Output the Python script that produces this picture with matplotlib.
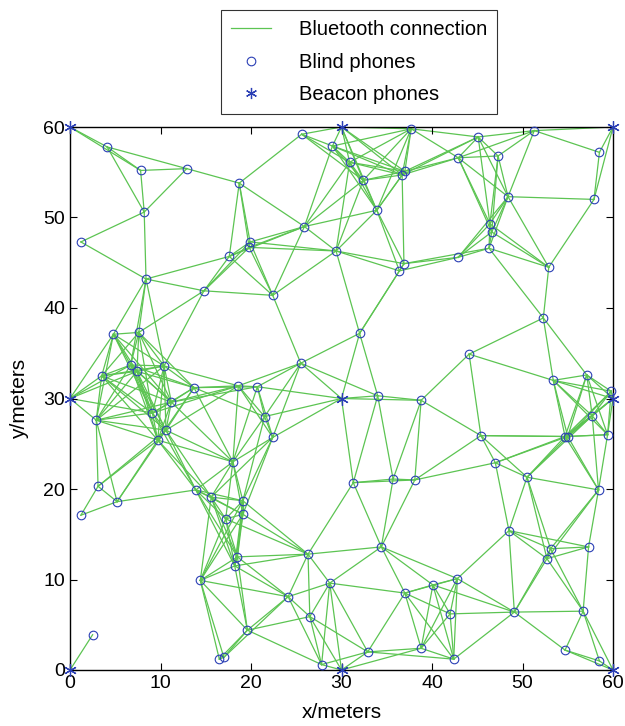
import matplotlib
matplotlib.use('Agg')
import matplotlib.pyplot as plt
from matplotlib.lines import Line2D

plt.rcParams['font.family'] = ['Liberation Sans', 'DejaVu Sans']

# Beacon phones (anchors at known positions), metres
beacon_x = [0, 30, 60, 0, 30, 60, 0, 30, 60]
beacon_y = [0, 0, 0, 30, 30, 30, 60, 60, 60]

# Blind phones, metres
blind_x = [4.1, 7.8, 12.9, 8.2, 1.2, 8.4, 18.7, 17.6, 19.9, 19.8, 14.8, 22.4,
           25.6, 29.0, 30.9, 32.4, 37.7, 37.0, 36.7, 33.9, 25.9, 29.4, 36.9, 36.4,
           45.1, 51.3, 58.5, 42.9, 47.3, 48.4, 57.9, 46.4, 46.6, 46.3, 42.9, 52.9,
           4.8, 7.6, 6.7, 7.4, 10.4, 3.5, 13.7, 18.6, 11.2, 9.1, 2.9, 10.6, 9.7, 18.0, 3.1, 13.9, 15.6,
           32.0, 25.5, 20.7, 34.0, 38.8, 21.5, 22.4, 31.3, 35.7, 38.1,
           52.3, 44.1, 53.4, 57.1, 59.8, 57.7, 59.4, 45.4, 54.7, 55.0, 47.0, 50.5, 58.4,
           5.2, 1.2, 19.1, 19.1, 17.2, 18.5, 18.2, 14.4, 19.6, 16.5, 17.0, 2.5,
           26.3, 34.4, 28.7, 24.1, 26.5, 37.0, 40.1, 27.8, 32.9, 38.8,
           48.5, 53.1, 52.7, 57.3, 42.8, 42.0, 49.1, 56.7, 42.4, 54.7, 58.5]
blind_y = [57.8, 55.2, 55.4, 50.6, 47.3, 43.2, 53.8, 45.7, 47.3, 46.7, 41.9, 41.4,
           59.2, 57.9, 56.1, 54.1, 59.8, 55.1, 54.7, 50.8, 49.0, 46.3, 44.9, 44.1,
           58.9, 59.6, 57.2, 56.6, 56.8, 52.3, 52.0, 49.3, 48.4, 46.6, 45.6, 44.5,
           37.1, 37.3, 33.7, 33.0, 33.6, 32.5, 31.2, 31.4, 29.6, 28.4, 27.6, 26.5, 25.4, 23.0, 20.3, 19.9, 19.1,
           37.2, 33.9, 31.3, 30.3, 29.8, 28.0, 25.7, 20.7, 21.1, 21.0,
           38.9, 34.9, 32.0, 32.6, 30.8, 28.1, 26.0, 25.9, 25.8, 25.8, 22.9, 21.3, 19.9,
           18.6, 17.1, 18.7, 17.2, 16.7, 12.5, 11.5, 9.9, 4.4, 1.2, 1.4, 3.9,
           12.8, 13.6, 9.6, 8.1, 5.9, 8.5, 9.4, 0.6, 2.0, 2.4,
           15.4, 13.4, 12.3, 13.6, 10.1, 6.2, 6.4, 6.5, 1.2, 2.2, 1.0]

# Bluetooth connections: node index (beacons 0-8, then blind phones 9-117)
# -> connected nodes with a higher index
links = {
    0: [96],
    1: [99, 101, 104, 105, 106],
    2: [114, 116, 117],
    3: [45, 47, 48, 50, 54, 55],
    4: [62, 63, 64, 65, 66, 67, 68, 69],
    5: [74, 75, 76, 77, 78, 80, 81],
    6: [9, 10],
    7: [21, 22, 23, 24, 25, 26, 27, 28],
    8: [34, 35, 39],
    9: [10, 11, 12],
    10: [11, 12],
    11: [12, 15],
    12: [13, 14],
    13: [14],
    14: [16, 19, 45, 46, 47, 49],
    15: [16, 17, 18, 21, 29],
    16: [17, 18, 19, 20, 29],
    17: [18, 19, 20, 29, 30],
    18: [19, 20, 29, 30],
    19: [20, 46, 49],
    20: [29, 30, 63],
    21: [22, 23, 24],
    22: [23, 24, 25, 26, 27, 28, 29],
    23: [24, 25, 26, 27, 28, 29, 30],
    24: [25, 26, 27, 28, 29, 30],
    25: [26, 27, 28, 33, 36],
    26: [27, 28, 33, 36],
    27: [28, 31, 33, 36],
    28: [29, 30, 31, 32],
    29: [30],
    30: [31, 32, 62],
    31: [32, 42, 43, 62],
    32: [43, 62],
    33: [34, 36, 37, 38, 40],
    34: [35, 36, 37, 38],
    35: [39],
    36: [37, 38, 40, 41],
    37: [38, 40, 41],
    38: [39, 40, 41, 42, 43, 44],
    39: [44],
    40: [41, 42, 43, 44],
    41: [42, 43, 44],
    42: [43, 44, 72],
    44: [72],
    45: [46, 47, 48, 49, 50, 53, 54, 55],
    46: [47, 48, 49, 50, 51, 53, 54],
    47: [48, 49, 50, 51, 53, 54, 55, 56, 57],
    48: [49, 50, 51, 53, 54, 55, 56, 57],
    49: [50, 51, 52, 53, 54, 55, 56, 57],
    50: [53, 54, 55, 56, 57],
    51: [52, 53, 54, 56, 57, 58, 64, 67],
    52: [53, 54, 56, 58, 63, 64, 67, 68],
    53: [54, 55, 56, 57, 58, 64],
    54: [55, 56, 57, 60],
    55: [56, 57, 59, 85],
    56: [57, 58, 59, 60, 61, 85],
    57: [58, 59, 60, 61, 85],
    58: [60, 61, 64, 67, 68, 87, 88, 89],
    59: [85, 86],
    60: [61, 85, 87, 88, 89, 90, 91],
    61: [68, 87, 88, 89, 90, 91, 92],
    62: [63, 65],
    63: [64, 65, 67, 68],
    64: [67, 68],
    65: [66, 69, 70],
    66: [70, 71, 73, 79],
    67: [68, 87],
    68: [87, 88],
    69: [70, 71, 97, 98],
    70: [71, 98],
    71: [79, 82, 98],
    72: [73, 74, 75],
    73: [74, 79],
    74: [75, 76, 77, 78, 80, 81],
    75: [76, 77, 78, 80, 81],
    76: [77, 78, 80, 81],
    77: [78, 80, 81, 83, 84],
    78: [80, 81, 84],
    79: [80, 81, 82, 83],
    80: [81, 82, 83, 84],
    81: [82, 83, 84],
    82: [83, 107],
    83: [84, 107, 108, 109],
    84: [108, 109, 110],
    85: [86],
    87: [88, 89, 90, 91, 92, 97],
    88: [89, 90, 91, 92, 97],
    89: [90, 91, 92, 97],
    90: [91, 92, 93, 97, 100],
    91: [92, 93, 97, 100],
    92: [93, 94, 95, 100],
    93: [94, 95, 100, 101, 104],
    94: [95],
    95: [100],
    97: [98, 99, 100, 101],
    98: [99, 102, 103, 111],
    99: [100, 101, 102, 104, 105],
    100: [101, 104],
    101: [104, 105],
    102: [103, 105, 106, 111, 112, 115],
    103: [106, 111, 112, 113, 115],
    104: [105],
    105: [106, 115],
    106: [111, 112, 115],
    107: [108, 109, 110, 111, 113],
    108: [109, 110, 113, 114],
    109: [110, 113, 114],
    110: [114],
    111: [112, 113, 115],
    112: [113, 115],
    113: [114, 115, 116],
    114: [116, 117],
    116: [117],
}

labels = ['Bluetooth connection', 'Blind phones', 'Beacon phones']

GREEN = '#5cc452'
BLUE = '#2b3fb5'

node_x = beacon_x + blind_x
node_y = beacon_y + blind_y

fig = plt.figure(figsize=(6.25, 7.26), dpi=100)
ax = fig.add_axes([70 / 625, 56 / 726, 543 / 625, 543 / 726])
for i, nbrs in links.items():
    for j in nbrs:
        ax.plot([node_x[i], node_x[j]], [node_y[i], node_y[j]],
                color=GREEN, lw=0.9, zorder=1)
ax.plot(blind_x, blind_y, 'o', mfc='none', mec=BLUE, ms=6.2, mew=0.8,
        zorder=3, clip_on=False)
ax.plot(beacon_x, beacon_y, marker=(6, 2, 0), ls='none', color=BLUE, ms=9,
        mew=0.9, zorder=4, clip_on=False)
ax.set_xlim(0, 60)
ax.set_ylim(0, 60)
ax.set_xticks(range(0, 61, 10))
ax.set_yticks(range(0, 61, 10))
ax.tick_params(direction='in', top=True, right=True, labelsize=14, length=5)
for s in ax.spines.values():
    s.set_linewidth(1.0)
ax.set_xlabel('x/meters', fontsize=15, labelpad=8)
ax.set_ylabel('y/meters', fontsize=15, labelpad=10)

handles = [Line2D([], [], color=GREEN, lw=0.9),
           Line2D([], [], marker='o', ls='none', mfc='none', mec=BLUE, ms=6.2, mew=0.8),
           Line2D([], [], marker=(6, 2, 0), ls='none', color=BLUE, ms=8, mew=0.9)]
leg = fig.legend(handles, labels, loc='upper left', bbox_to_anchor=(221 / 625, 1 - 10 / 726),
                 fontsize=14.5, frameon=True, fancybox=False, edgecolor='black',
                 handlelength=2.0, handletextpad=1.35, labelspacing=0.67, borderpad=0.5,
                 borderaxespad=0)
leg.get_frame().set_linewidth(0.8)

fig.savefig('out.png', dpi=100)
